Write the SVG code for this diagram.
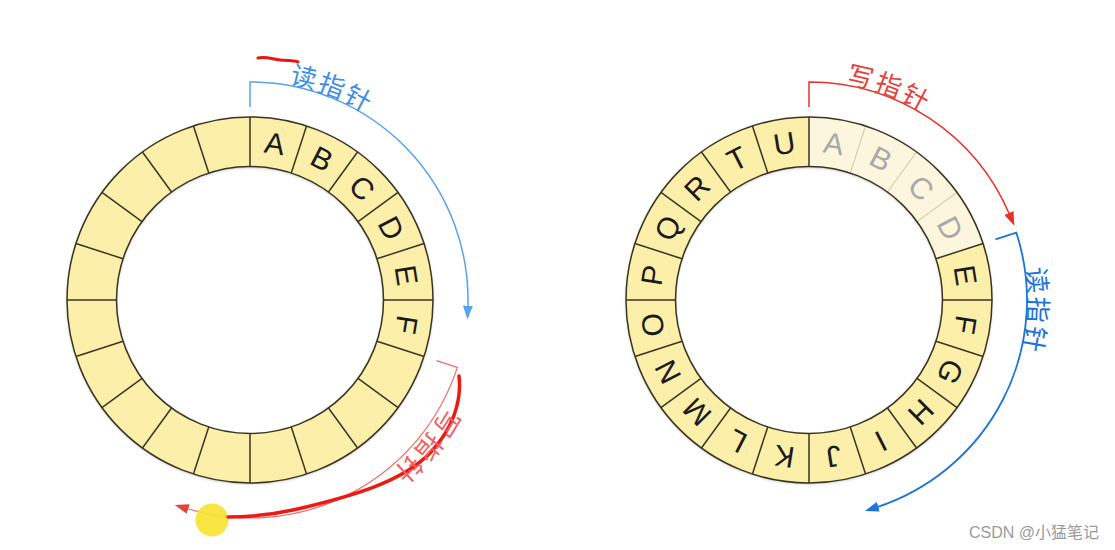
<svg xmlns="http://www.w3.org/2000/svg" width="1115" height="550" viewBox="0 0 1115 550">
<defs>
<style>
.ring{fill:#FBEFA9;fill-rule:evenodd;}
.outline{fill:none;stroke:#3a3522;stroke-width:1.5;}
.div{stroke:#3a3522;stroke-width:1.5;}
.fdiv{stroke:#CFC6A6;stroke-width:1;}
.let{font-family:"Liberation Sans",Arial,sans-serif;font-size:30px;fill:#1a1a1a;text-anchor:middle;dominant-baseline:central;}
.flet{fill:#A9A9A6;}
.cjk{font-family:"Noto Sans CJK SC","Noto Sans",sans-serif;font-size:26px;text-anchor:middle;dominant-baseline:central;}
.blueL{fill:#3F8FE2;}
.blueR{fill:#1C74D6;}
.redR{fill:#E4433B;}
.redL{fill:#F06060;}
.arc{fill:none;}
</style>
<filter id="sh" x="-10%" y="-10%" width="120%" height="120%">
<feDropShadow dx="0" dy="1" stdDeviation="1.5" flood-color="#000" flood-opacity="0.25"/>
</filter>
<marker id="mBlueL" viewBox="0 0 14 10" refX="2" refY="5" markerWidth="14" markerHeight="10" markerUnits="userSpaceOnUse" orient="auto"><path d="M0,0 L14,5 L0,10 Z" fill="#5AA2EA"/></marker>
<marker id="mRedR" viewBox="0 0 14 10" refX="2" refY="5" markerWidth="14" markerHeight="10" markerUnits="userSpaceOnUse" orient="auto"><path d="M0,0 L14,5 L0,10 Z" fill="#E8322A"/></marker>
<marker id="mBlueR" viewBox="0 0 14 10" refX="2" refY="5" markerWidth="14" markerHeight="10" markerUnits="userSpaceOnUse" orient="auto"><path d="M0,0 L14,5 L0,10 Z" fill="#1C74D6"/></marker>
<marker id="mRedL" viewBox="0 0 14 10" refX="2" refY="5" markerWidth="14" markerHeight="10" markerUnits="userSpaceOnUse" orient="auto"><path d="M0,0 L14,5 L0,10 Z" fill="#E8403A"/></marker>
</defs>
<rect width="1115" height="550" fill="#ffffff"/>

<!-- Left ring -->
<g id="ringLeft" transform="translate(250,300)">
<path class="ring" filter="url(#sh)" d="M0,-183 A183,183 0 1 1 0,183 A183,183 0 1 1 0,-183 Z M0,-133.5 A133.5,133.5 0 1 0 0,133.5 A133.5,133.5 0 1 0 0,-133.5 Z"/>
<g class="div">
<line x1="0" y1="-133.5" x2="0" y2="-183" transform="rotate(0)"/>
<line x1="0" y1="-133.5" x2="0" y2="-183" transform="rotate(18)"/>
<line x1="0" y1="-133.5" x2="0" y2="-183" transform="rotate(36)"/>
<line x1="0" y1="-133.5" x2="0" y2="-183" transform="rotate(54)"/>
<line x1="0" y1="-133.5" x2="0" y2="-183" transform="rotate(72)"/>
<line x1="0" y1="-133.5" x2="0" y2="-183" transform="rotate(90)"/>
<line x1="0" y1="-133.5" x2="0" y2="-183" transform="rotate(108)"/>
<line x1="0" y1="-133.5" x2="0" y2="-183" transform="rotate(126)"/>
<line x1="0" y1="-133.5" x2="0" y2="-183" transform="rotate(144)"/>
<line x1="0" y1="-133.5" x2="0" y2="-183" transform="rotate(162)"/>
<line x1="0" y1="-133.5" x2="0" y2="-183" transform="rotate(180)"/>
<line x1="0" y1="-133.5" x2="0" y2="-183" transform="rotate(198)"/>
<line x1="0" y1="-133.5" x2="0" y2="-183" transform="rotate(216)"/>
<line x1="0" y1="-133.5" x2="0" y2="-183" transform="rotate(234)"/>
<line x1="0" y1="-133.5" x2="0" y2="-183" transform="rotate(252)"/>
<line x1="0" y1="-133.5" x2="0" y2="-183" transform="rotate(270)"/>
<line x1="0" y1="-133.5" x2="0" y2="-183" transform="rotate(288)"/>
<line x1="0" y1="-133.5" x2="0" y2="-183" transform="rotate(306)"/>
<line x1="0" y1="-133.5" x2="0" y2="-183" transform="rotate(324)"/>
<line x1="0" y1="-133.5" x2="0" y2="-183" transform="rotate(342)"/>
</g>
<circle class="outline" r="183"/>
<circle class="outline" r="133.5"/>
<text class="let" transform="rotate(9) translate(0,-158.5)">A</text>
<text class="let" transform="rotate(27) translate(0,-158.5)">B</text>
<text class="let" transform="rotate(45) translate(0,-158.5)">C</text>
<text class="let" transform="rotate(63) translate(0,-158.5)">D</text>
<text class="let" transform="rotate(81) translate(0,-158.5)">E</text>
<text class="let" transform="rotate(99) translate(0,-158.5)">F</text>
</g>

<!-- Right ring -->
<g id="ringRight" transform="translate(809,300)">
<path class="ring" filter="url(#sh)" d="M0,-183 A183,183 0 1 1 0,183 A183,183 0 1 1 0,-183 Z M0,-133.5 A133.5,133.5 0 1 0 0,133.5 A133.5,133.5 0 1 0 0,-133.5 Z"/>
<path fill="#FDF6DE" d="M0,-183 A183,183 0 0 1 174.04,-56.55 L126.97,-41.25 A133.5,133.5 0 0 0 0,-133.5 Z"/>
<g class="fdiv">
<line x1="0" y1="-133.5" x2="0" y2="-183" transform="rotate(18)"/>
<line x1="0" y1="-133.5" x2="0" y2="-183" transform="rotate(36)"/>
<line x1="0" y1="-133.5" x2="0" y2="-183" transform="rotate(54)"/>
</g>
<g class="div">
<line x1="0" y1="-133.5" x2="0" y2="-183" transform="rotate(0)"/>
<line x1="0" y1="-133.5" x2="0" y2="-183" transform="rotate(72)"/>
<line x1="0" y1="-133.5" x2="0" y2="-183" transform="rotate(90)"/>
<line x1="0" y1="-133.5" x2="0" y2="-183" transform="rotate(108)"/>
<line x1="0" y1="-133.5" x2="0" y2="-183" transform="rotate(126)"/>
<line x1="0" y1="-133.5" x2="0" y2="-183" transform="rotate(144)"/>
<line x1="0" y1="-133.5" x2="0" y2="-183" transform="rotate(162)"/>
<line x1="0" y1="-133.5" x2="0" y2="-183" transform="rotate(180)"/>
<line x1="0" y1="-133.5" x2="0" y2="-183" transform="rotate(198)"/>
<line x1="0" y1="-133.5" x2="0" y2="-183" transform="rotate(216)"/>
<line x1="0" y1="-133.5" x2="0" y2="-183" transform="rotate(234)"/>
<line x1="0" y1="-133.5" x2="0" y2="-183" transform="rotate(252)"/>
<line x1="0" y1="-133.5" x2="0" y2="-183" transform="rotate(270)"/>
<line x1="0" y1="-133.5" x2="0" y2="-183" transform="rotate(288)"/>
<line x1="0" y1="-133.5" x2="0" y2="-183" transform="rotate(306)"/>
<line x1="0" y1="-133.5" x2="0" y2="-183" transform="rotate(324)"/>
<line x1="0" y1="-133.5" x2="0" y2="-183" transform="rotate(342)"/>
</g>
<circle class="outline" r="183"/>
<circle class="outline" r="133.5"/>
<text class="let flet" transform="rotate(9) translate(0,-158.5)">A</text>
<text class="let flet" transform="rotate(27) translate(0,-158.5)">B</text>
<text class="let flet" transform="rotate(45) translate(0,-158.5)">C</text>
<text class="let flet" transform="rotate(63) translate(0,-158.5)">D</text>
<text class="let" transform="rotate(81) translate(0,-158.5)">E</text>
<text class="let" transform="rotate(99) translate(0,-158.5)">F</text>
<text class="let" transform="rotate(117) translate(0,-158.5)">G</text>
<text class="let" transform="rotate(135) translate(0,-158.5)">H</text>
<text class="let" transform="rotate(153) translate(0,-158.5)">I</text>
<text class="let" transform="rotate(171) translate(0,-158.5)">J</text>
<text class="let" transform="rotate(189) translate(0,-158.5)">K</text>
<text class="let" transform="rotate(207) translate(0,-158.5)">L</text>
<text class="let" transform="rotate(225) translate(0,-158.5)">M</text>
<text class="let" transform="rotate(243) translate(0,-158.5)">N</text>
<text class="let" transform="rotate(261) translate(0,-158.5)">O</text>
<text class="let" transform="rotate(279) translate(0,-158.5)">P</text>
<text class="let" transform="rotate(297) translate(0,-158.5)">Q</text>
<text class="let" transform="rotate(315) translate(0,-158.5)">R</text>
<text class="let" transform="rotate(333) translate(0,-158.5)">T</text>
<text class="let" transform="rotate(351) translate(0,-158.5)">U</text>
</g>

<!-- Connectors / pointers -->
<g id="connectors">
<g transform="translate(250,300)">
<path class="arc" stroke="#5AA2EA" stroke-width="1.5" marker-end="url(#mBlueL)" d="M0,-193 L0,-218 A218,218 0 0 1 217.87,7.61"/>
<path class="arc" stroke="#F06A6A" stroke-width="1.2" marker-end="url(#mRedL)" d="M186.41,60.57 L207.33,67.37 A218,218 0 0 1 -63.74,208.47"/>
</g>
<g transform="translate(809,300)">
<path class="arc" stroke="#E8322A" stroke-width="1.5" marker-end="url(#mRedR)" d="M0,-193 L0,-218 A218,218 0 0 1 200.67,-85.18"/>
<path class="arc" stroke="#1C74D6" stroke-width="1.8" marker-end="url(#mBlueR)" d="M186.41,-60.57 L207.33,-67.37 A218,218 0 0 1 67.37,207.33"/>
</g>
<!-- freehand red strokes -->
<path fill="none" stroke="#E8160E" stroke-width="3" stroke-linecap="round" d="M258,58 C265,56 272,59 280,60 C288,61 293,60 298,62"/>
<circle cx="212" cy="520" r="16.5" fill="#F7E333" fill-opacity="0.92"/>
<path fill="none" stroke="#EE1A10" stroke-width="3.5" stroke-linecap="round" stroke-linejoin="round" d="M459,376 C462,402 452,430 430,453 C402,482 352,496 302,508 C272,515 248,517 228,517"/>
</g>

<!-- Labels -->
<g id="labels">
<g transform="translate(250,300)">
<text class="cjk blueL" transform="rotate(13.6) translate(0,-231)">读</text>
<text class="cjk blueL" transform="rotate(20.9) translate(0,-231)">指</text>
<text class="cjk blueL" transform="rotate(28.2) translate(0,-231)">针</text>
<text class="cjk redL" transform="rotate(122) translate(0,-234)">写</text>
<text class="cjk redL" transform="rotate(129.4) translate(0,-234)">指</text>
<text class="cjk redL" transform="rotate(136.8) translate(0,-234)">针</text>
</g>
<g transform="translate(809,300)">
<text class="cjk redR" transform="rotate(13) translate(0,-231)">写</text>
<text class="cjk redR" transform="rotate(20.4) translate(0,-231)">指</text>
<text class="cjk redR" transform="rotate(27.8) translate(0,-231)">针</text>
<text class="cjk blueR" transform="rotate(85) translate(0,-231)">读</text>
<text class="cjk blueR" transform="rotate(92.4) translate(0,-231)">指</text>
<text class="cjk blueR" transform="rotate(99.8) translate(0,-231)">针</text>
</g>
<text x="1099" y="538" text-anchor="end" font-family="'Liberation Sans','Noto Sans CJK SC',sans-serif" font-size="16" fill="#9a9a9a">CSDN @小猛笔记</text>
</g>
</svg>
